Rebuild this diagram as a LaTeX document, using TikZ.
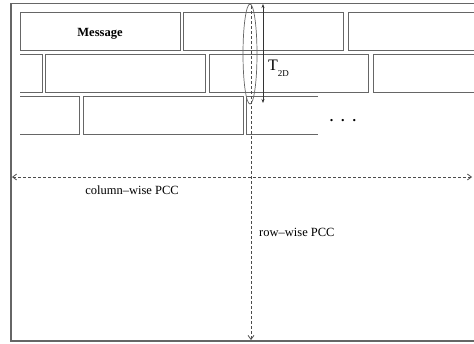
\documentclass[tikz,border=0pt]{standalone}
\usepackage{fontspec}
\setmainfont{Liberation Serif}
\usetikzlibrary{arrows.meta}
\tikzset{barb/.tip={Straight Barb[length=4pt,width=6pt]},
 tip2d/.tip={Stealth[length=4pt,width=3pt]}}
\begin{document}
\begin{tikzpicture}[x=1pt,y=-1pt,
 brick/.style={draw=black!60, line width=0.9pt},
 frame/.style={draw=black!60, line width=1.2pt},
 pcc/.style={draw=black!70, dash pattern=on 3pt off 2pt, line width=0.8pt},
 lbl/.style={font=\fontsize{12.5}{14}\selectfont, inner sep=0pt}]
\useasboundingbox (0,0) rectangle (474,343);
% frame
\draw[frame] (474,3.5) -- (11,3.5) -- (11,341) -- (474,341);
% row 1
\draw[brick] (20,12) rectangle (180,50);
\node[lbl, font=\fontsize{12.5}{14}\selectfont\bfseries] (msg) at (100,34) {Message};
\draw[brick] (183,12) rectangle (343,50);
\draw[brick] (474,12) -- (348,12) -- (348,50) -- (474,50);
% row 2
\draw[brick] (20,54) -- (42,54) -- (42,92) -- (20,92);
\draw[brick] (45,54) rectangle (205,92);
\draw[brick] (209,54) rectangle (368,92);
\draw[brick] (474,54) -- (373,54) -- (373,92) -- (474,92);
% row 3
\draw[brick] (20,96) -- (79,96) -- (79,134) -- (20,134);
\draw[brick] (83,96) rectangle (243,134);
\draw[brick] (318,96) -- (246,96) -- (246,134) -- (318,134);
\node[lbl, font=\fontsize{14}{16}\selectfont\bfseries] (dots) at (343,121) {.\hspace{8pt}.\hspace{8pt}.};
% ellipse
\draw[black!60, line width=0.7pt] (250,54) ellipse [x radius=7, y radius=50];
% PCC arrows
\coordinate (vt) at (251,6);
\coordinate (vb) at (251,340);
\coordinate (hl) at (12,177);
\coordinate (hr) at (472,177);
\draw[pcc, -barb] (vt) -- (vb);
\draw[pcc, barb-barb] (hl) -- (hr);
% T2D
\coordinate (tt) at (263,4);
\coordinate (tb) at (263,103);
\draw[black!80, line width=0.7pt, tip2d-tip2d] (tt) -- (tb);
\node[lbl, anchor=west, font=\fontsize{16}{18}\selectfont] (t2d) at (268,68) {T\raisebox{-6pt}{\fontsize{9}{10}\selectfont 2D}};
% labels
\node[lbl] (col) at (132,190) {column--wise PCC};
\node[lbl, anchor=west] (row) at (259,232) {row--wise PCC};
\end{tikzpicture}
\end{document}
